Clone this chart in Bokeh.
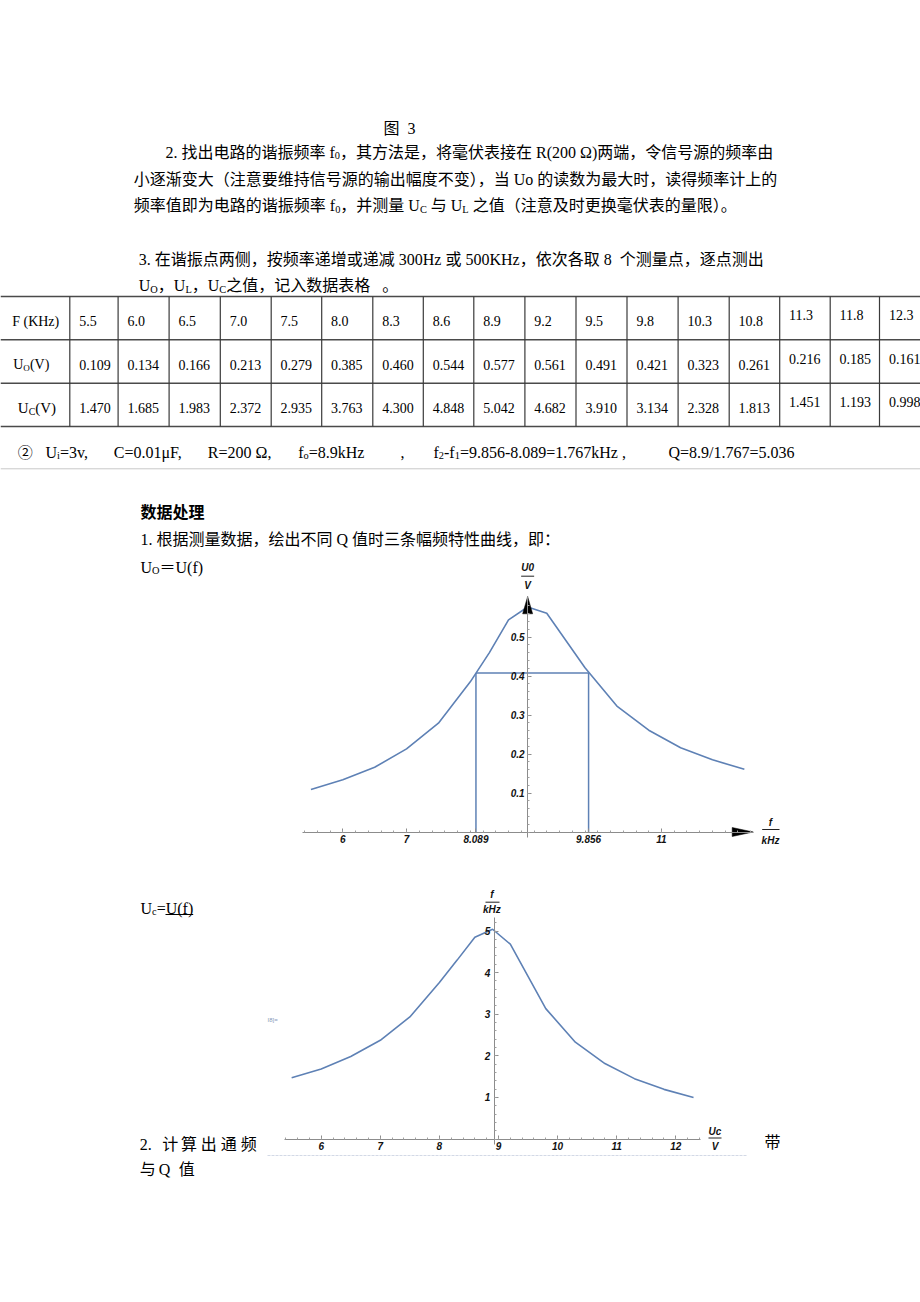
import math
from bokeh.plotting import figure
from bokeh.models import Range1d, LinearAxis, FixedTicker
from bokeh.layouts import column, row
from bokeh.core.properties import value
from bokeh.embed import file_html
from bokeh.resources import INLINE

freq_khz = [5.5, 6.0, 6.5, 7.0, 7.5, 8.0, 8.3, 8.6, 8.9, 9.2, 9.5, 9.8, 10.3, 10.8, 11.3, 11.8, 12.3]
u_o = [0.109, 0.134, 0.166, 0.213, 0.279, 0.385, 0.460, 0.544, 0.577, 0.561, 0.491, 0.421,
       0.323, 0.261, 0.216, 0.185, 0.161]
u_c = [1.470, 1.685, 1.983, 2.372, 2.935, 3.763, 4.300, 4.848, 5.042, 4.682, 3.910, 3.134,
       2.328, 1.813, 1.451, 1.193, 0.998]
f0_khz = 8.9
f1_khz = 8.089
f2_khz = 9.856

u0_xticks = [6, 7, 8.089, 9.856, 11]
u0_xtick_labels = ["6", "7", "8.089", "9.856", "11"]
u0_yticks = [0.1, 0.2, 0.3, 0.4, 0.5]
u0_ytick_labels = ["0.1", "0.2", "0.3", "0.4", "0.5"]
uc_xticks = [6, 7, 8, 9, 10, 11, 12]
uc_xtick_labels = ["6", "7", "8", "9", "10", "11", "12"]
uc_yticks = [1, 2, 3, 4, 5]
uc_ytick_labels = ["1", "2", "3", "4", "5"]

# ---------------- styling helpers ----------------
SERIF = "Liberation Serif, Noto Sans CJK SC"
SANS = "Liberation Sans"
BLUE = "#5E81B5"
AXC = "#8c8c8c"

TNR = {' ': 0.25, '\u00a0': 0.25, '.': 0.25, ',': 0.25, '(': 0.333, ')': 0.333, '-': 0.333,
       '/': 0.278, '=': 0.564, 'Ω': 0.768, 'μ': 0.576}
for d in "0123456789":
    TNR[d] = 0.5
TNR.update(dict(zip("ABCDEFGHIJKLMNOPQRSTUVWXYZ",
                    [0.722, 0.667, 0.667, 0.722, 0.611, 0.556, 0.722, 0.722, 0.333, 0.389, 0.722,
                     0.611, 0.889, 0.722, 0.722, 0.556, 0.722, 0.667, 0.556, 0.611, 0.722, 0.722,
                     0.944, 0.722, 0.722, 0.611])))
TNR.update(dict(zip("abcdefghijklmnopqrstuvwxyz",
                    [0.444, 0.5, 0.444, 0.5, 0.444, 0.333, 0.5, 0.5, 0.278, 0.278, 0.5, 0.278,
                     0.778, 0.5, 0.5, 0.5, 0.5, 0.333, 0.389, 0.278, 0.5, 0.5, 0.722, 0.5, 0.5,
                     0.444])))


def twidth(s, size):
    w = 0.0
    for ch in s:
        if ord(ch) >= 0x2000:
            w += 1.0
        else:
            w += TNR.get(ch, 0.5)
    return w * size


def canvas(w, h):
    return figure(width=w, height=h, x_range=Range1d(0, w), y_range=Range1d(h, 0),
                  x_axis_type=None, y_axis_type=None, min_border=0,
                  toolbar_location=None, output_backend="svg", outline_line_color=None)


def rich(p, x, y, runs, size=16, style="normal", color="#000000"):
    """Draw a line made of normal / subscript runs; y is the visual centre of the line."""
    base = y + 0.02 * size
    for txt, kind in runs:
        if kind == "s":
            s = size * 0.65
            yy = base + 0.2 * size
        else:
            s = size
            yy = base
        p.text(x=[x], y=[yy], text=[txt.replace(" ", "\u00a0")], text_font=value(SERIF),
               text_font_size=f"{s:.1f}px", text_font_style=style,
               text_baseline="alphabetic", text_align="left", text_color=color)
        x += twidth(txt, s)
    return x


# ---------------- band A: text + table ----------------
A = canvas(920, 555)
rich(A, 383, 127.7, [("图  3", "n")])
rich(A, 165, 151.7, [("2. 找出电路的谐振频率 f", "n"), ("0", "s"),
                     ("，其方法是，将毫伏表接在 R(200 Ω)两端，令信号源的频率由", "n")])
rich(A, 133.3, 178.3, [("小逐渐变大（注意要维持信号源的输出幅度不变），当 Uo 的读数为最大时，读得频率计上的", "n")])
rich(A, 133.3, 205, [("频率值即为电路的谐振频率 f", "n"), ("0", "s"), ("，并测量 U", "n"), ("C", "s"),
                     (" 与 U", "n"), ("L", "s"), (" 之值（注意及时更换毫伏表的量限）。", "n")])
rich(A, 138.3, 258.3, [("3. 在谐振点两侧，按频率递增或递减 300Hz 或 500KHz，依次各取 8  个测量点，逐点测出", "n")])
rich(A, 138.3, 285, [("U", "n"), ("O", "s"), ("，U", "n"), ("L", "s"), ("，U", "n"), ("C", "s"),
                     ("之值，记入数据表格   。", "n")])

# table grid
row_lines = [296, 339.3, 382.7, 426]
col_lines = [69.3, 117.6, 168.6, 219.8, 270.7, 321.2, 372.3, 422.8, 473.3, 524.4, 575.5,
             626.5, 677.6, 728.7, 779.2, 829.7, 879.0]
A.segment(x0=[0] * 4, x1=[920] * 4, y0=row_lines, y1=row_lines, line_color="#4a4a4a", line_width=1.6)
A.segment(x0=col_lines, x1=col_lines, y0=[296] * len(col_lines), y1=[426] * len(col_lines),
          line_color="#3a3a3a", line_width=1.2)

row_y = [320.7, 364.0, 407.3]
rich(A, 11.7, row_y[0], [("F (KHz)", "n")], size=14)
rich(A, 12.7, row_y[1], [("U", "n"), ("O", "s"), ("(V)", "n")], size=14)
rich(A, 17.3, row_y[2], [("U", "n"), ("C", "s"), ("(V)", "n")], size=15)
for i in range(len(freq_khz)):
    x = col_lines[i] + 9.4
    dy = -6 if i >= 14 else 0
    cells = [f"{freq_khz[i]:.1f}", f"{u_o[i]:.3f}", f"{u_c[i]:.3f}"]
    for r in range(3):
        rich(A, x, row_y[r] + dy, [(cells[r], "n")], size=14)

fy = 451.7
rich(A, 17.3, fy, [("②", "n")], size=15)
rich(A, 45, fy, [("U", "n"), ("i", "s"), ("=3v,", "n")], size=16)
rich(A, 113.3, fy, [("C=0.01μF,", "n")], size=16)
rich(A, 207.3, fy, [("R=200 Ω,", "n")], size=16)
rich(A, 297.7, fy, [("f", "n"), ("o", "s"), ("=8.9kHz", "n")], size=16)
rich(A, 400, fy, [(",", "n")], size=16)
rich(A, 433, fy, [("f", "n"), ("2", "s"), ("-f", "n"), ("1", "s"), ("=9.856-8.089=1.767kHz ,", "n")], size=16)
rich(A, 668, fy, [("Q=8.9/1.767=5.036", "n")], size=16)
A.segment(x0=[0], x1=[920], y0=[468.3], y1=[468.3], line_color="#c8c8c8", line_width=1)

rich(A, 140, 511.7, [("数据处理", "n")], style="bold")
rich(A, 140, 538.3, [("1. 根据测量数据，绘出不同 Q 值时三条幅频特性曲线，即：", "n")])

# ---------------- band B: chart 1 ----------------
B_left = canvas(300, 305)
rich(B_left, 140, 566.7 - 555, [("U", "n"), ("O", "s"), ("＝U(f)", "n")])
B_right = canvas(130, 305)


def fx1(px):
    return 7 + (px - 406.04) / 63.74


def fy1(py):
    return (831.5 - py) / 390.0


def style_axis(ax, standoff=3):
    ax.axis_line_color = AXC
    ax.axis_line_width = 1
    ax.major_tick_line_color = AXC
    ax.minor_tick_line_color = "#a0a0a0"
    ax.major_tick_in = 4
    ax.major_tick_out = 0
    ax.minor_tick_in = 2
    ax.minor_tick_out = 0
    ax.major_label_text_font = SANS
    ax.major_label_text_font_style = "bold italic"
    ax.major_label_text_font_size = "10px"
    ax.major_label_text_color = "#111111"
    ax.major_label_standoff = standoff


def chart_text(p, x, y, txt):
    p.text(x=[x], y=[y], text=[txt], text_font=value(SANS), text_font_size="10px",
           text_font_style="bold italic", text_align="center", text_baseline="middle",
           text_color="#111111")


p1 = figure(width=490, height=305, x_range=Range1d(fx1(300), fx1(790)),
            y_range=Range1d(fy1(860), fy1(555)), x_axis_type=None, y_axis_type=None,
            min_border=0, toolbar_location=None, output_backend="svg", outline_line_color=None)

x_minor1 = [round(5.4 + 0.2 * i, 2) for i in range(36)]
y_minor1 = [round(0.02 * i, 2) for i in range(30)]
xax1 = LinearAxis(fixed_location=0, bounds=(fx1(301.7), fx1(752.7)),
                  ticker=FixedTicker(ticks=u0_xticks, minor_ticks=x_minor1),
                  major_label_overrides=dict(zip(u0_xticks, u0_xtick_labels)))
style_axis(xax1, 3)
p1.add_layout(xax1, "below")
yax1 = LinearAxis(fixed_location=f0_khz, bounds=(fy1(836.7), fy1(596)),
                  ticker=FixedTicker(ticks=u0_yticks, minor_ticks=y_minor1),
                  major_label_overrides=dict(zip(u0_yticks, u0_ytick_labels)))
style_axis(yax1, 3)
p1.add_layout(yax1, "left")

level = max(u_o) / math.sqrt(2)
p1.segment(x0=[f1_khz, f2_khz, f1_khz], y0=[0, 0, level], x1=[f1_khz, f2_khz, f2_khz],
           y1=[level, level, level], line_color=BLUE, line_width=1.5)
p1.line(freq_khz, u_o, line_color=BLUE, line_width=1.6)

# arrow heads
xt, xb, hh = fx1(752.7), fx1(731.7), 4.5 / 390.0
yt, yb, hw = fy1(596), fy1(613.3), 5.0 / 63.74
p1.patches(xs=[[xt, xb, xb], [f0_khz, f0_khz - hw, f0_khz + hw]],
           ys=[[0, hh, -hh], [yt, yb, yb]], color="black", line_width=0.5)

chart_text(p1, f0_khz, fy1(567), "U0")
chart_text(p1, f0_khz, fy1(585), "V")
p1.segment(x0=[f0_khz - 6.5 / 63.74], x1=[f0_khz + 6.5 / 63.74], y0=[fy1(575.7)], y1=[fy1(575.7)],
           line_color="#222222", line_width=1)
chart_text(p1, fx1(770), fy1(821.7), "f")
chart_text(p1, fx1(770), fy1(840), "kHz")
p1.segment(x0=[fx1(761.7)], x1=[fx1(779)], y0=[fy1(829)], y1=[fy1(829)], line_color="#222222", line_width=1)

# ---------------- band C: chart 2 ----------------
C_left = canvas(262, 442)
rich(C_left, 140, 907.3 - 860, [("U", "n"), ("c", "s"), ("=U(f)", "n")])
C_left.segment(x0=[165], x1=[192.7], y0=[914 - 860], y1=[914 - 860], line_color="#000000", line_width=1)
rich(C_left, 139.3, 1143.3 - 860, [("2.", "n")])
for cx, ch in zip([161.7, 180.5, 200.3, 220.3, 240.3], "计算出通频"):
    rich(C_left, cx, 1143.3 - 860, [(ch, "n")])
for cx, ch in zip([139.3, 158.3, 178.3], "与Q值"):
    rich(C_left, cx, 1168.3 - 860, [(ch, "n")])
C_right = canvas(160, 442)
rich(C_right, 4, 1141.7 - 860, [("带", "n")])


def fx2(px):
    return 6 + (px - 320.7) / 59.1


def fy2(py):
    return (1138.5 - py) / 41.6


p2 = figure(width=498, height=442, x_range=Range1d(fx2(262), fx2(760)),
            y_range=Range1d(fy2(1302), fy2(860)), x_axis_type=None, y_axis_type=None,
            min_border=0, toolbar_location=None, output_backend="svg", outline_line_color=None)
x_minor2 = [round(5.4 + 0.2 * i, 2) for i in range(36)]
y_minor2 = [round(0.2 * i, 2) for i in range(27)]
xax2 = LinearAxis(fixed_location=0, bounds=(fx2(283.8), fx2(700)),
                  ticker=FixedTicker(ticks=uc_xticks, minor_ticks=x_minor2),
                  major_label_overrides=dict(zip(uc_xticks, uc_xtick_labels)))
style_axis(xax2, 3)
p2.add_layout(xax2, "below")
yax2 = LinearAxis(fixed_location=fx2(493.8), bounds=(fy2(1144), fy2(917.3)),
                  ticker=FixedTicker(ticks=uc_yticks, minor_ticks=y_minor2),
                  major_label_overrides=dict(zip(uc_yticks, uc_ytick_labels)))
style_axis(yax2, 4)
p2.add_layout(yax2, "left")

p2.line(freq_khz, u_c, line_color=BLUE, line_width=1.6)
# faint separator line under the chart
p2.segment(x0=[fx2(267)], x1=[fx2(746)], y0=[fy2(1155)], y1=[fy2(1155)],
           line_color="#d3d9e6", line_width=1.2, line_dash="3 1")
p2.text(x=[fx2(267)], y=[fy2(1019.3)], text=["I8]="], text_font=value(SANS), text_font_size="6px",
        text_align="left", text_baseline="middle", text_color="#8799b8")

xc = fx2(491.4)
chart_text(p2, xc, fy2(894), "f")
chart_text(p2, xc, fy2(908.5), "kHz")
p2.segment(x0=[fx2(485)], x1=[fx2(499)], y0=[fy2(901.7)], y1=[fy2(901.7)], line_color="#222222", line_width=1)
chart_text(p2, fx2(714.5), fy2(1130.7), "Uc")
chart_text(p2, fx2(714.5), fy2(1145.7), "V")
p2.segment(x0=[fx2(708)], x1=[fx2(721)], y0=[fy2(1137.5)], y1=[fy2(1137.5)], line_color="#222222", line_width=1)

layout = column(A, row(B_left, p1, B_right, spacing=0), row(C_left, p2, C_right, spacing=0), spacing=0)
open("out.html", "w").write(file_html(layout, INLINE, title="plot"))
